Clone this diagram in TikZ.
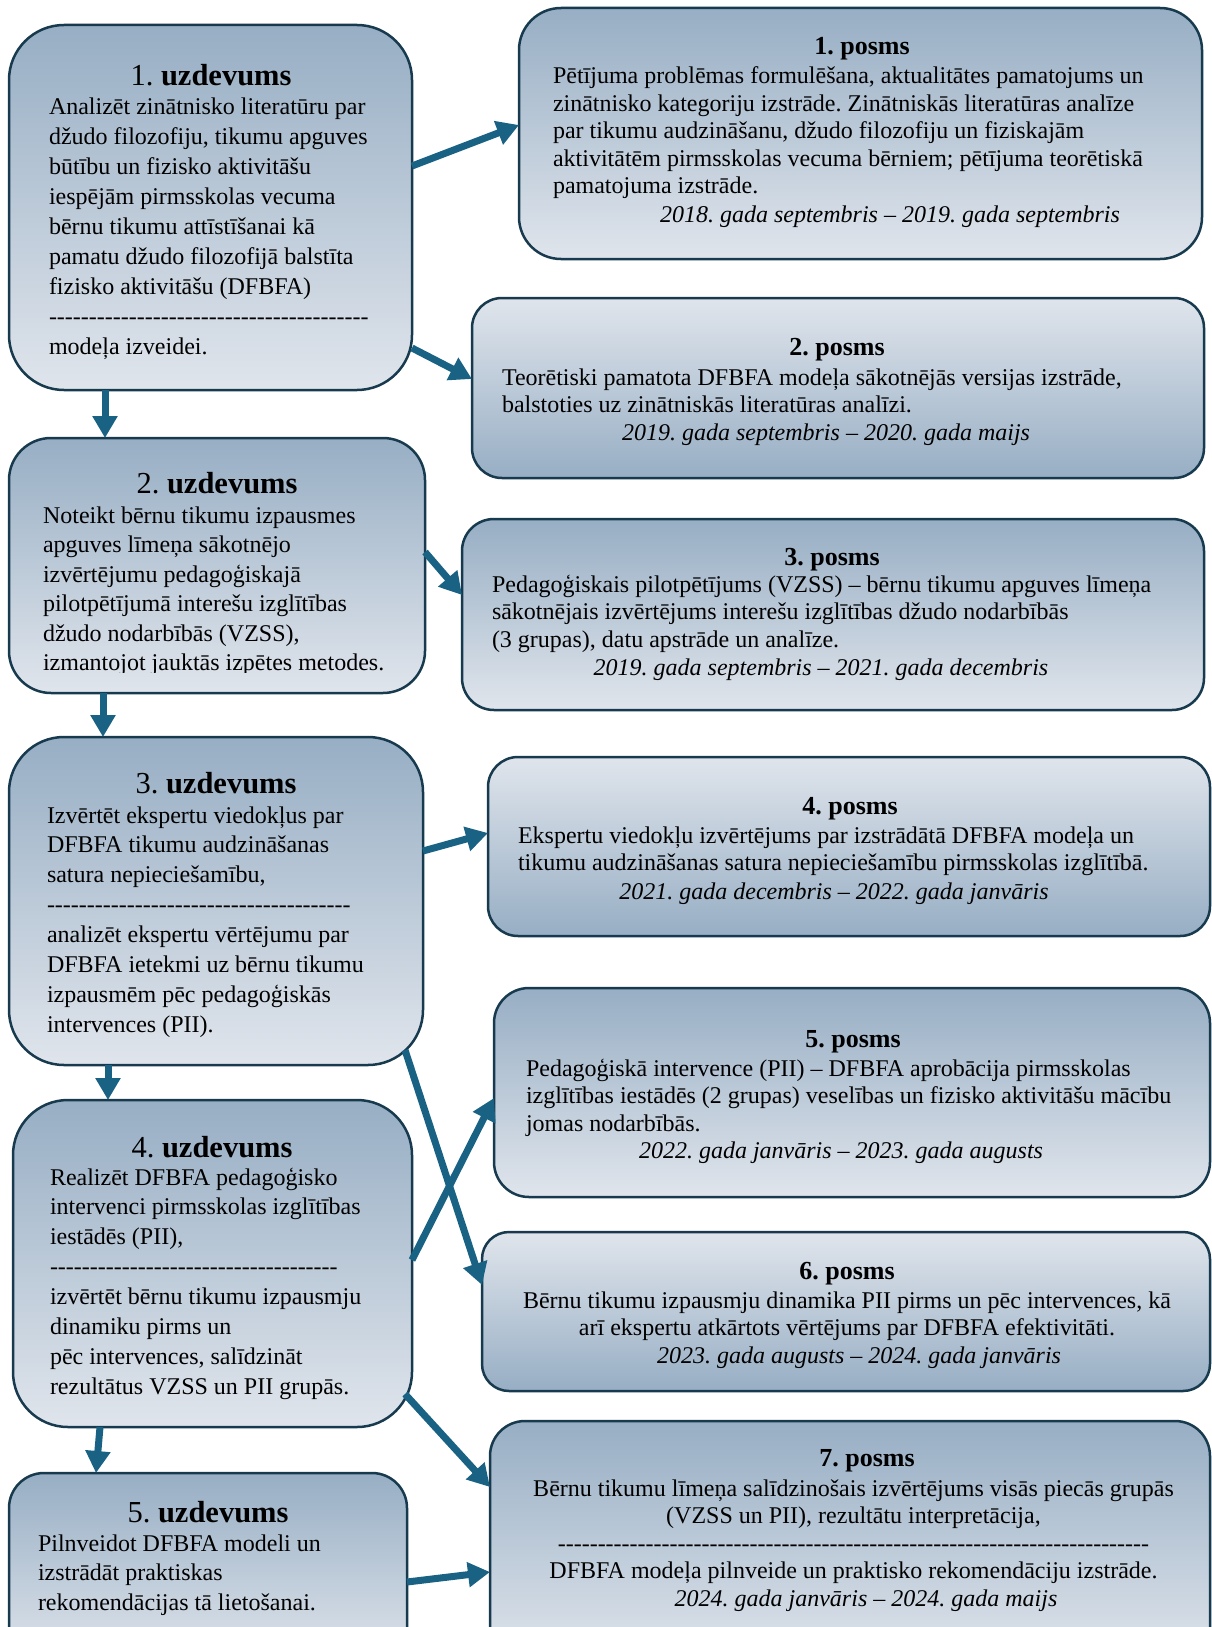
\documentclass[tikz,border=0pt]{standalone}
\usepackage{fontspec}
\setmainfont{Liberation Serif}
\usetikzlibrary{arrows.meta}
\definecolor{gdark}{HTML}{97AEC4}
\definecolor{glight}{HTML}{E0E5EC}
\definecolor{bordc}{HTML}{173A4E}
\definecolor{arrc}{HTML}{1A6283}
\newcommand\bodyL{\fontsize{24}{29.9}\selectfont}
\newcommand\bodyR{\fontsize{24}{27.5}\selectfont}
\ExplSyntaxOn
\NewDocumentCommand\hy{m}{\leavevmode\prg_replicate:nn{#1}{\hbox{-}}}
\ExplSyntaxOff
\tikzset{
  box/.style={draw=bordc, line width=2.5pt, top color=gdark, bottom color=glight,
    rectangle, inner sep=0pt, outer sep=0pt},
  boxrev/.style={box, top color=glight, bottom color=gdark},
  arr/.style={draw=arrc, line width=7pt, -{Triangle[length=22pt,width=24pt]}},
  txt/.style={inner sep=0pt, outer sep=0pt, text=black},
  utitle/.style={txt, anchor=base, font=\fontsize{30.5}{36}\selectfont},
  ptitle/.style={txt, anchor=base, font=\fontsize{26}{30}\selectfont\bfseries},
  pdate/.style={txt, anchor=base, font=\bodyR\itshape},
  lbody/.style={txt, anchor=base west},
  cbody/.style={txt, anchor=base},
}
\begin{document}
\frenchspacing
\begin{tikzpicture}[x=1pt,y=-1pt]
\useasboundingbox (0,0) rectangle (1211,1627);
% ---- left boxes
\node[box, rounded corners=55pt, minimum width=403pt, minimum height=365pt] (u1) at (210.5,207.5) {};
\node[box, rounded corners=42pt, minimum width=416pt, minimum height=255pt] (u2) at (217,565.5) {};
\node[box, rounded corners=55pt, minimum width=414pt, minimum height=328pt] (u3) at (216,901) {};
\node[box, rounded corners=55pt, minimum width=399pt, minimum height=327pt] (u4) at (212.5,1263.5) {};
\node[box, rounded corners=35pt, minimum width=398pt, minimum height=192pt] (u5) at (208,1569) {};
% ---- right boxes
\node[box, rounded corners=42pt, minimum width=683pt, minimum height=251pt] (p1) at (860.5,133.5) {};
\node[boxrev, rounded corners=30pt, minimum width=732pt, minimum height=180pt] (p2) at (838,388) {};
\node[box, rounded corners=32pt, minimum width=742pt, minimum height=191pt] (p3) at (833,614.5) {};
\node[boxrev, rounded corners=30pt, minimum width=722pt, minimum height=179pt] (p4) at (849,846.5) {};
\node[box, rounded corners=35pt, minimum width=716pt, minimum height=209pt] (p5) at (852,1092.5) {};
\node[boxrev, rounded corners=27pt, minimum width=728pt, minimum height=159pt] (p6) at (846,1311.5) {};
\node[box, rounded corners=35pt, minimum width=720pt, minimum height=244pt] (p7) at (850,1543) {};

% ---- left texts
\node[utitle] (u1h) at (211,86) {1. \textbf{uzdevums}};
\node[lbody] (u1b) at (49,115) {\parbox[t]{390pt}{\bodyL\raggedright
Analizēt zinātnisko literatūru par\\
džudo filozofiju, tikumu apguves\\
būtību un fizisko aktivitāšu\\
iespējām pirmsskolas vecuma\\
bērnu tikumu attīstīšanai kā\\
pamatu džudo filozofijā balstīta\\
fizisko aktivitāšu (DFBFA)\\
\hy{40}\\
modeļa izveidei.}};

\node[utitle] (u2h) at (217,493) {2. \textbf{uzdevums}};
\begin{scope}
\clip (0,430) rectangle (440,672);
\node[lbody] (u2b) at (43,523) {\parbox[t]{390pt}{\fontsize{24}{29.5}\selectfont\raggedright
Noteikt bērnu tikumu izpausmes\\
apguves līmeņa sākotnējo\\
izvērtējumu pedagoģiskajā\\
pilotpētījumā interešu izglītības\\
džudo nodarbībās (VZSS),\\
izmantojot jauktās izpētes metodes.}};
\end{scope}

\node[utitle] (u3h) at (216,793) {3. \textbf{uzdevums}};
\node[lbody] (u3b) at (47,823) {\parbox[t]{390pt}{\bodyL\raggedright
Izvērtēt ekspertu viedokļus par\\
DFBFA tikumu audzināšanas\\
satura nepieciešamību,\\
\hy{38}\\
analizēt ekspertu vērtējumu par\\
DFBFA ietekmi uz bērnu tikumu\\
izpausmēm pēc pedagoģiskās\\
intervences (PII).}};

\node[utitle] (u4h) at (212,1157) {4. \textbf{uzdevums}};
\node[lbody] (u4b) at (50,1185) {\parbox[t]{390pt}{\bodyL\raggedright
Realizēt DFBFA pedagoģisko\\
intervenci pirmsskolas izglītības\\
iestādēs (PII),\\
\hy{36}\\
izvērtēt bērnu tikumu izpausmju\\
dinamiku pirms un\\
pēc intervences, salīdzināt\\
rezultātus VZSS un PII grupās.}};

\node[utitle] (u5h) at (208,1522) {5. \textbf{uzdevums}};
\node[lbody] (u5b) at (38,1551) {\parbox[t]{390pt}{\bodyL\raggedright
Pilnveidot DFBFA modeli un\\
izstrādāt praktiskas\\
rekomendācijas tā lietošanai.}};

% ---- right texts
\node[ptitle] (p1h) at (862,55) {1. posms};
\node[lbody] (p1b) at (553,84) {\parbox[t]{640pt}{\bodyR\raggedright
Pētījuma problēmas formulēšana, aktualitātes pamatojums un\\
zinātnisko kategoriju izstrāde. Zinātniskās literatūras analīze\\
par tikumu audzināšanu, džudo filozofiju un fiziskajām\\
aktivitātēm pirmsskolas vecuma bērniem; pētījuma teorētiskā\\
pamatojuma izstrāde.}};
\node[pdate] (p1d) at (890,222) {2018. gada septembris – 2019. gada septembris};

\node[ptitle] (p2h) at (837,355) {2. posms};
\node[lbody] (p2b) at (502,385) {\parbox[t]{690pt}{\bodyR\raggedright
Teorētiski pamatota DFBFA modeļa sākotnējās versijas izstrāde,\\
balstoties uz zinātniskās literatūras analīzi.}};
\node[pdate] (p2d) at (826,440) {2019. gada septembris – 2020. gada maijs};

\node[ptitle] (p3h) at (832,565) {3. posms};
\node[lbody] (p3b) at (492,592) {\parbox[t]{700pt}{\bodyR\raggedright
Pedagoģiskais pilotpētījums (VZSS) – bērnu tikumu apguves līmeņa\\
sākotnējais izvērtējums interešu izglītības džudo nodarbībās\\
(3 grupas), datu apstrāde un analīze.}};
\node[pdate] (p3d) at (821,675) {2019. gada septembris – 2021. gada decembris};

\node[ptitle] (p4h) at (850,814) {4. posms};
\node[lbody] (p4b) at (518,843) {\parbox[t]{680pt}{\bodyR\raggedright
Ekspertu viedokļu izvērtējums par izstrādātā DFBFA modeļa un\\
tikumu audzināšanas satura nepieciešamību pirmsskolas izglītībā.}};
\node[pdate] (p4d) at (834,899) {2021. gada decembris – 2022. gada janvāris};

\node[ptitle] (p5h) at (853,1047) {5. posms};
\node[lbody] (p5b) at (526,1076) {\parbox[t]{680pt}{\bodyR\raggedright
Pedagoģiskā intervence (PII) – DFBFA aprobācija pirmsskolas\\
izglītības iestādēs (2 grupas) veselības un fizisko aktivitāšu mācību\\
jomas nodarbībās.}};
\node[pdate] (p5d) at (841,1158) {2022. gada janvāris – 2023. gada augusts};

\node[ptitle] (p6h) at (847,1279) {6. posms};
\node[cbody] (p6b) at (847,1308) {\parbox[t]{700pt}{\bodyR\centering
Bērnu tikumu izpausmju dinamika PII pirms un pēc intervences, kā\\
arī ekspertu atkārtots vērtējums par DFBFA efektivitāti.}};
\node[pdate] (p6d) at (859,1363) {2023. gada augusts – 2024. gada janvāris};

\node[ptitle] (p7h) at (867,1466) {7. posms};
\node[cbody] (p7b) at (853.5,1496) {\parbox[t]{700pt}{\bodyR\centering
Bērnu tikumu līmeņa salīdzinošais izvērtējums visās piecās grupās\\
(VZSS un PII), rezultātu interpretācija,\\
\hy{74}\\
DFBFA modeļa pilnveide un praktisko rekomendāciju izstrāde.}};
\node[pdate] (p7d) at (866,1606) {2024. gada janvāris – 2024. gada maijs};

% ---- arrows
\draw[arr] ([yshift=41.5pt]u1.east) -- ([yshift=8.5pt]p1.west);
\draw[arr] ([yshift=-140.5pt]u1.east) -- ([yshift=9pt]p2.west);
\draw[arr] ([xshift=-105.5pt]u1.south) -- ([xshift=-112pt]u2.north);
\draw[arr] ([yshift=13.5pt]u2.east) -- ([yshift=19.5pt]p3.west);
\draw[arr] ([xshift=-114pt]u2.south) -- ([xshift=-113pt]u3.north);
\draw[arr] ([yshift=50pt]u3.east) -- ([yshift=13.5pt]p4.west);
\draw[arr] ([xshift=-108pt]u3.south) -- ([xshift=-104.5pt]u4.north);
\draw[arr] ([xshift=-18pt,yshift=15pt]u3.south east) -- ([yshift=26.5pt]p6.west);
\draw[arr] ([yshift=3.5pt]u4.east) -- ([yshift=-5.5pt]p5.west);
\draw[arr] ([xshift=-112.5pt]u4.south) -- ([xshift=-112pt]u5.north);
\draw[arr] ([xshift=-7pt,yshift=33pt]u4.south east) -- ([yshift=-66pt]p7.north west);
\draw[arr] ([yshift=-109pt]u5.north east) -- ([yshift=-151pt]p7.north west);
\end{tikzpicture}
\end{document}
